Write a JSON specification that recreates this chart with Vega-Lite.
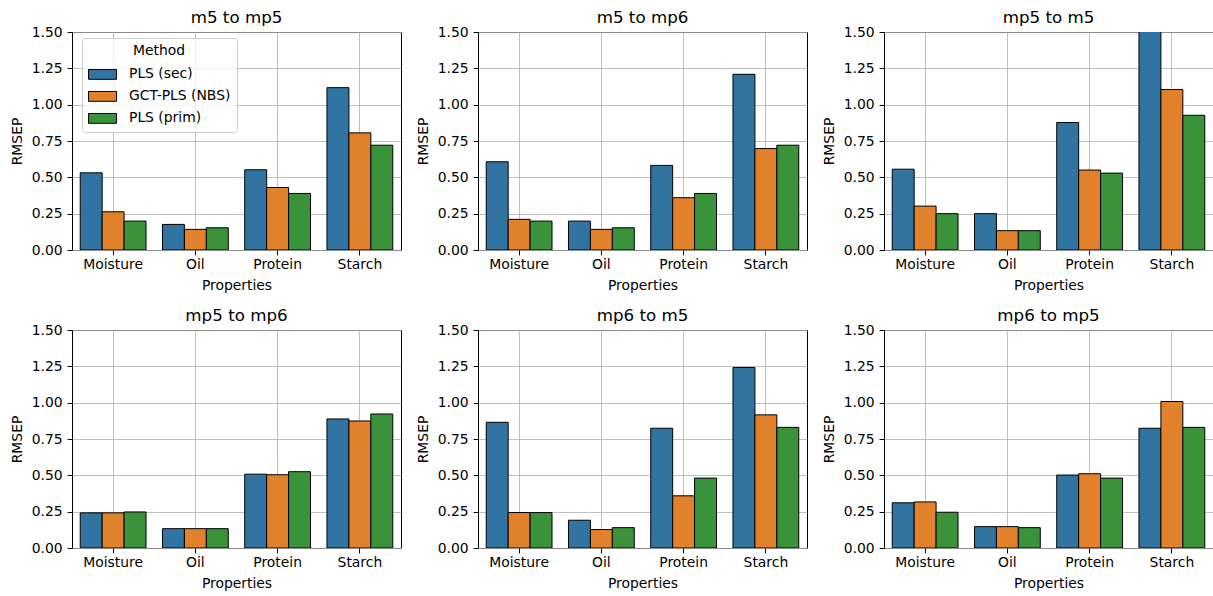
{
  "$schema": "https://vega.github.io/schema/vega-lite/v6.json",
  "padding": {"left": 9, "top": 9, "right": 0, "bottom": 0},
  "background": "white",
  "datasets": {
    "d": [
      {"panel": "m5 to mp5", "prop": "Moisture", "method": "PLS (sec)", "value": 0.531},
      {"panel": "m5 to mp5", "prop": "Moisture", "method": "GCT-PLS (NBS)", "value": 0.263},
      {"panel": "m5 to mp5", "prop": "Moisture", "method": "PLS (prim)", "value": 0.199},
      {"panel": "m5 to mp5", "prop": "Oil", "method": "PLS (sec)", "value": 0.176},
      {"panel": "m5 to mp5", "prop": "Oil", "method": "GCT-PLS (NBS)", "value": 0.142},
      {"panel": "m5 to mp5", "prop": "Oil", "method": "PLS (prim)", "value": 0.153},
      {"panel": "m5 to mp5", "prop": "Protein", "method": "PLS (sec)", "value": 0.552},
      {"panel": "m5 to mp5", "prop": "Protein", "method": "GCT-PLS (NBS)", "value": 0.430},
      {"panel": "m5 to mp5", "prop": "Protein", "method": "PLS (prim)", "value": 0.389},
      {"panel": "m5 to mp5", "prop": "Starch", "method": "PLS (sec)", "value": 1.117},
      {"panel": "m5 to mp5", "prop": "Starch", "method": "GCT-PLS (NBS)", "value": 0.806},
      {"panel": "m5 to mp5", "prop": "Starch", "method": "PLS (prim)", "value": 0.721},

      {"panel": "m5 to mp6", "prop": "Moisture", "method": "PLS (sec)", "value": 0.607},
      {"panel": "m5 to mp6", "prop": "Moisture", "method": "GCT-PLS (NBS)", "value": 0.211},
      {"panel": "m5 to mp6", "prop": "Moisture", "method": "PLS (prim)", "value": 0.199},
      {"panel": "m5 to mp6", "prop": "Oil", "method": "PLS (sec)", "value": 0.199},
      {"panel": "m5 to mp6", "prop": "Oil", "method": "GCT-PLS (NBS)", "value": 0.142},
      {"panel": "m5 to mp6", "prop": "Oil", "method": "PLS (prim)", "value": 0.153},
      {"panel": "m5 to mp6", "prop": "Protein", "method": "PLS (sec)", "value": 0.582},
      {"panel": "m5 to mp6", "prop": "Protein", "method": "GCT-PLS (NBS)", "value": 0.360},
      {"panel": "m5 to mp6", "prop": "Protein", "method": "PLS (prim)", "value": 0.389},
      {"panel": "m5 to mp6", "prop": "Starch", "method": "PLS (sec)", "value": 1.209},
      {"panel": "m5 to mp6", "prop": "Starch", "method": "GCT-PLS (NBS)", "value": 0.698},
      {"panel": "m5 to mp6", "prop": "Starch", "method": "PLS (prim)", "value": 0.721},

      {"panel": "mp5 to m5", "prop": "Moisture", "method": "PLS (sec)", "value": 0.556},
      {"panel": "mp5 to m5", "prop": "Moisture", "method": "GCT-PLS (NBS)", "value": 0.302},
      {"panel": "mp5 to m5", "prop": "Moisture", "method": "PLS (prim)", "value": 0.250},
      {"panel": "mp5 to m5", "prop": "Oil", "method": "PLS (sec)", "value": 0.250},
      {"panel": "mp5 to m5", "prop": "Oil", "method": "GCT-PLS (NBS)", "value": 0.133},
      {"panel": "mp5 to m5", "prop": "Oil", "method": "PLS (prim)", "value": 0.133},
      {"panel": "mp5 to m5", "prop": "Protein", "method": "PLS (sec)", "value": 0.877},
      {"panel": "mp5 to m5", "prop": "Protein", "method": "GCT-PLS (NBS)", "value": 0.550},
      {"panel": "mp5 to m5", "prop": "Protein", "method": "PLS (prim)", "value": 0.529},
      {"panel": "mp5 to m5", "prop": "Starch", "method": "PLS (sec)", "value": 1.55},
      {"panel": "mp5 to m5", "prop": "Starch", "method": "GCT-PLS (NBS)", "value": 1.104},
      {"panel": "mp5 to m5", "prop": "Starch", "method": "PLS (prim)", "value": 0.927},

      {"panel": "mp5 to mp6", "prop": "Moisture", "method": "PLS (sec)", "value": 0.242},
      {"panel": "mp5 to mp6", "prop": "Moisture", "method": "GCT-PLS (NBS)", "value": 0.242},
      {"panel": "mp5 to mp6", "prop": "Moisture", "method": "PLS (prim)", "value": 0.248},
      {"panel": "mp5 to mp6", "prop": "Oil", "method": "PLS (sec)", "value": 0.133},
      {"panel": "mp5 to mp6", "prop": "Oil", "method": "GCT-PLS (NBS)", "value": 0.133},
      {"panel": "mp5 to mp6", "prop": "Oil", "method": "PLS (prim)", "value": 0.133},
      {"panel": "mp5 to mp6", "prop": "Protein", "method": "PLS (sec)", "value": 0.508},
      {"panel": "mp5 to mp6", "prop": "Protein", "method": "GCT-PLS (NBS)", "value": 0.504},
      {"panel": "mp5 to mp6", "prop": "Protein", "method": "PLS (prim)", "value": 0.525},
      {"panel": "mp5 to mp6", "prop": "Starch", "method": "PLS (sec)", "value": 0.888},
      {"panel": "mp5 to mp6", "prop": "Starch", "method": "GCT-PLS (NBS)", "value": 0.874},
      {"panel": "mp5 to mp6", "prop": "Starch", "method": "PLS (prim)", "value": 0.922},

      {"panel": "mp6 to m5", "prop": "Moisture", "method": "PLS (sec)", "value": 0.865},
      {"panel": "mp6 to m5", "prop": "Moisture", "method": "GCT-PLS (NBS)", "value": 0.244},
      {"panel": "mp6 to m5", "prop": "Moisture", "method": "PLS (prim)", "value": 0.244},
      {"panel": "mp6 to m5", "prop": "Oil", "method": "PLS (sec)", "value": 0.191},
      {"panel": "mp6 to m5", "prop": "Oil", "method": "GCT-PLS (NBS)", "value": 0.127},
      {"panel": "mp6 to m5", "prop": "Oil", "method": "PLS (prim)", "value": 0.140},
      {"panel": "mp6 to m5", "prop": "Protein", "method": "PLS (sec)", "value": 0.824},
      {"panel": "mp6 to m5", "prop": "Protein", "method": "GCT-PLS (NBS)", "value": 0.359},
      {"panel": "mp6 to m5", "prop": "Protein", "method": "PLS (prim)", "value": 0.481},
      {"panel": "mp6 to m5", "prop": "Starch", "method": "PLS (sec)", "value": 1.242},
      {"panel": "mp6 to m5", "prop": "Starch", "method": "GCT-PLS (NBS)", "value": 0.916},
      {"panel": "mp6 to m5", "prop": "Starch", "method": "PLS (prim)", "value": 0.830},

      {"panel": "mp6 to mp5", "prop": "Moisture", "method": "PLS (sec)", "value": 0.311},
      {"panel": "mp6 to mp5", "prop": "Moisture", "method": "GCT-PLS (NBS)", "value": 0.317},
      {"panel": "mp6 to mp5", "prop": "Moisture", "method": "PLS (prim)", "value": 0.246},
      {"panel": "mp6 to mp5", "prop": "Oil", "method": "PLS (sec)", "value": 0.147},
      {"panel": "mp6 to mp5", "prop": "Oil", "method": "GCT-PLS (NBS)", "value": 0.147},
      {"panel": "mp6 to mp5", "prop": "Oil", "method": "PLS (prim)", "value": 0.140},
      {"panel": "mp6 to mp5", "prop": "Protein", "method": "PLS (sec)", "value": 0.502},
      {"panel": "mp6 to mp5", "prop": "Protein", "method": "GCT-PLS (NBS)", "value": 0.511},
      {"panel": "mp6 to mp5", "prop": "Protein", "method": "PLS (prim)", "value": 0.481},
      {"panel": "mp6 to mp5", "prop": "Starch", "method": "PLS (sec)", "value": 0.824},
      {"panel": "mp6 to mp5", "prop": "Starch", "method": "GCT-PLS (NBS)", "value": 1.008},
      {"panel": "mp6 to mp5", "prop": "Starch", "method": "PLS (prim)", "value": 0.830}
    ]
  },
  "data": {"name": "d"},
  "columns": 3,
  "spacing": {"column": 13, "row": 13},
  "facet": {
    "field": "panel",
    "type": "nominal",
    "sort": ["m5 to mp5", "m5 to mp6", "mp5 to m5", "mp5 to mp6", "mp6 to m5", "mp6 to mp5"],
    "header": {"title": null, "labelFontSize": 16.7, "labelFont": "DejaVu Sans", "labelColor": "black", "labelPadding": -2}
  },
  "resolve": {"axis": {"x": "independent", "y": "independent"}},
  "spec": {
    "width": 329,
    "height": 218,
    "mark": {"type": "bar", "stroke": "black", "strokeWidth": 1, "clip": true},
    "encoding": {
      "x": {
        "field": "prop", "type": "nominal", "title": "Properties",
        "scale": {"paddingInner": 0.2, "paddingOuter": 0.1},
        "axis": {"labelAngle": 0, "grid": true, "bandPosition": 0.5, "labelPadding": 3, "titlePadding": 7}
      },
      "xOffset": {
        "field": "method", "type": "nominal",
        "sort": ["PLS (sec)", "GCT-PLS (NBS)", "PLS (prim)"],
        "scale": {"paddingInner": 0, "paddingOuter": 0}
      },
      "y": {
        "field": "value", "type": "quantitative", "title": "RMSEP",
        "scale": {"domain": [0, 1.5], "nice": false},
        "axis": {"values": [0, 0.25, 0.5, 0.75, 1.0, 1.25, 1.5], "format": ".2f", "grid": true, "labelPadding": 5, "titlePadding": 7}
      },
      "color": {
        "field": "method", "type": "nominal",
        "sort": ["PLS (sec)", "GCT-PLS (NBS)", "PLS (prim)"],
        "scale": {"domain": ["PLS (sec)", "GCT-PLS (NBS)", "PLS (prim)"], "range": ["#3274a1", "#e1812c", "#3a923a"]},
        "legend": {
          "title": "Method",
          "orient": "none",
          "legendX": 10,
          "legendY": 6,
          "symbolType": "M-1,-0.35H1V0.35H-1Z",
          "symbolSize": 784,
          "symbolStrokeColor": "black",
          "symbolStrokeWidth": 1,
          "symbolOpacity": 1,
          "labelFontSize": 13.9,
          "labelFont": "DejaVu Sans",
          "labelColor": "black",
          "titleFontSize": 13.9,
          "titleFont": "DejaVu Sans",
          "titleFontWeight": "normal",
          "titleColor": "black",
          "titleAnchor": "middle",
          "titlePadding": 2,
          "rowPadding": -8,
          "labelOffset": 12,
          "padding": 6,
          "strokeColor": "#cccccc",
          "fillColor": "rgba(255,255,255,0.8)",
          "cornerRadius": 3
        }
      }
    }
  },
  "config": {
    "font": "DejaVu Sans",
    "view": {"stroke": "black", "strokeWidth": 1},
    "axis": {
      "labelFont": "DejaVu Sans",
      "labelFontSize": 13.9,
      "labelColor": "black",
      "titleFont": "DejaVu Sans",
      "titleFontSize": 13.9,
      "titleFontWeight": "normal",
      "titleColor": "black",
      "tickColor": "black",
      "tickSize": 4.9,
      "domain": false,
      "gridColor": "#b0b0b0",
      "gridWidth": 0.8,
      "gridOpacity": 1,
      "zindex": 1
    }
  }
}
